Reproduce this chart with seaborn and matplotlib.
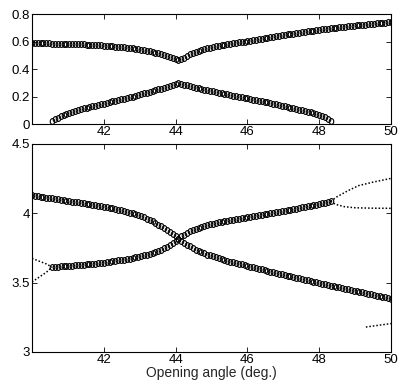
import numpy as np
import matplotlib
matplotlib.use("Agg")
import matplotlib.pyplot as plt
import seaborn as sns

# -------------------------------
# Data
# -------------------------------
# sampling grid of opening angle, 0.08 deg step
angle_full = np.round(40 + 0.08 * np.arange(126), 2)   # 40.00 .. 50.00
angle_mid = angle_full[7:105]                          # 40.56 .. 48.32

# top panel, upper branch (40.00 .. 50.00)
top_upper = [
    0.587, 0.587, 0.587, 0.586, 0.586, 0.586, 0.586, 0.585, 0.585, 0.585, 0.584, 0.584, 0.583,
    0.583, 0.582, 0.581, 0.580, 0.580, 0.579, 0.578, 0.577, 0.576, 0.575, 0.573, 0.572,
    0.570, 0.568, 0.567, 0.565, 0.563, 0.561, 0.559, 0.557, 0.555, 0.552, 0.550, 0.547, 0.545,
    0.541, 0.538, 0.534, 0.530, 0.525, 0.520, 0.515, 0.509, 0.502, 0.494, 0.487, 0.479,
    0.471, 0.465, 0.472, 0.483, 0.495, 0.506, 0.516, 0.524, 0.532, 0.539, 0.545, 0.550, 0.556,
    0.560, 0.565, 0.569, 0.573, 0.577, 0.580, 0.584, 0.587, 0.590, 0.594, 0.597, 0.599,
    0.602, 0.606, 0.609, 0.613, 0.616, 0.620, 0.623, 0.627, 0.630, 0.634, 0.637, 0.641, 0.644,
    0.648, 0.651, 0.654, 0.657, 0.661, 0.664, 0.667, 0.670, 0.673, 0.677, 0.680, 0.683,
    0.686, 0.688, 0.691, 0.693, 0.696, 0.698, 0.700, 0.703, 0.705, 0.707, 0.710, 0.712, 0.715,
    0.717, 0.719, 0.721, 0.723, 0.725, 0.727, 0.729, 0.731, 0.733, 0.735, 0.737, 0.739, 0.741,
]

# top panel, lower branch (40.56 .. 48.32)
top_lower = [
    0.022, 0.036, 0.047, 0.058, 0.067, 0.075, 0.082, 0.089, 0.096,
    0.102, 0.108, 0.113, 0.119, 0.124, 0.129, 0.134, 0.139, 0.144,
    0.149, 0.154, 0.159, 0.164, 0.169, 0.174, 0.179, 0.184, 0.189, 0.194, 0.200, 0.205, 0.210,
    0.216, 0.222, 0.228, 0.234, 0.240, 0.246, 0.252, 0.258, 0.265, 0.271, 0.278, 0.284,
    0.291, 0.297, 0.292, 0.287, 0.281, 0.275, 0.269, 0.264, 0.259, 0.254, 0.250, 0.246, 0.242,
    0.238, 0.233, 0.229, 0.224, 0.220, 0.215, 0.211, 0.207, 0.203, 0.198, 0.194, 0.190,
    0.186, 0.182, 0.178, 0.174, 0.169, 0.165, 0.161, 0.157, 0.152, 0.148, 0.143, 0.139, 0.134,
    0.130, 0.125, 0.120, 0.115, 0.110, 0.105, 0.100, 0.095, 0.090, 0.084, 0.078, 0.072,
    0.066, 0.059, 0.051, 0.040, 0.022,
]

# bottom panel, falling branch (40.00 .. 50.00)
bot_fall = [
    4.130, 4.127, 4.124, 4.120, 4.117, 4.114, 4.111, 4.108, 4.104, 4.101, 4.098, 4.095, 4.092,
    4.088, 4.085, 4.082, 4.079, 4.076, 4.072, 4.069, 4.066, 4.063, 4.059, 4.055, 4.052,
    4.048, 4.044, 4.040, 4.036, 4.031, 4.027, 4.022, 4.017, 4.011, 4.005, 3.999, 3.992, 3.985,
    3.978, 3.970, 3.961, 3.952, 3.942, 3.931, 3.919, 3.906, 3.892, 3.878, 3.863, 3.848,
    3.833, 3.818, 3.803, 3.788, 3.774, 3.761, 3.749, 3.738, 3.728, 3.719, 3.711, 3.703, 3.696,
    3.689, 3.682, 3.676, 3.670, 3.664, 3.658, 3.652, 3.646, 3.641, 3.636, 3.631, 3.626,
    3.621, 3.616, 3.611, 3.605, 3.600, 3.595, 3.590, 3.585, 3.580, 3.575, 3.570, 3.565, 3.560,
    3.555, 3.550, 3.545, 3.540, 3.535, 3.530, 3.525, 3.521, 3.516, 3.511, 3.506, 3.502,
    3.497, 3.493, 3.488, 3.484, 3.479, 3.475, 3.470, 3.466, 3.461, 3.457, 3.452, 3.448, 3.443,
    3.439, 3.434, 3.430, 3.425, 3.421, 3.416, 3.412, 3.407, 3.403, 3.398, 3.394, 3.389, 3.385,
]

# bottom panel, rising branch (40.56 .. 48.32)
bot_rise = [
    3.612, 3.614, 3.615, 3.617, 3.618, 3.620, 3.622, 3.623, 3.625,
    3.627, 3.628, 3.630, 3.632, 3.634, 3.636, 3.638, 3.640, 3.642,
    3.645, 3.648, 3.651, 3.654, 3.657, 3.660, 3.663, 3.666, 3.670, 3.674, 3.678, 3.682, 3.686,
    3.691, 3.696, 3.701, 3.707, 3.713, 3.720, 3.728, 3.737, 3.747, 3.759, 3.772, 3.787,
    3.803, 3.818, 3.833, 3.847, 3.859, 3.870, 3.880, 3.889, 3.897, 3.904, 3.910, 3.916, 3.921,
    3.926, 3.931, 3.935, 3.939, 3.943, 3.947, 3.951, 3.955, 3.959, 3.962, 3.966, 3.969,
    3.973, 3.976, 3.980, 3.983, 3.987, 3.990, 3.994, 3.997, 4.000, 4.004, 4.007, 4.011, 4.014,
    4.018, 4.022, 4.026, 4.030, 4.034, 4.038, 4.042, 4.046, 4.050, 4.054, 4.058, 4.062,
    4.066, 4.071, 4.076, 4.081, 4.087,
]

# dotted (unstable) branches in the bottom panel
dot_left_up_x = [40.0, 40.2, 40.4, 40.56]
dot_left_up_y = [3.675, 3.655, 3.635, 3.612]
dot_left_lo_x = [40.0, 40.2, 40.4, 40.56]
dot_left_lo_y = [3.505, 3.540, 3.575, 3.612]
dot_right_up_x = [48.32, 48.5, 48.8, 49.1, 49.5, 50.0]
dot_right_up_y = [4.087, 4.120, 4.163, 4.200, 4.225, 4.252]
dot_right_lo_x = [48.32, 48.45, 48.7, 49.0, 49.5, 50.0]
dot_right_lo_y = [4.087, 4.065, 4.048, 4.040, 4.037, 4.036]
dot_tail_x = [49.3, 50.0]
dot_tail_y = [3.180, 3.205]

x_ticks = [42, 44, 46, 48, 50]
top_yticks = [0, 0.2, 0.4, 0.6, 0.8]
top_ylabels = ["0", "0.2", "0.4", "0.6", "0.8"]
bot_yticks = [3, 3.5, 4, 4.5]
bot_ylabels = ["3", "3.5", "4", "4.5"]

# -------------------------------
# Style
# -------------------------------
sns.set_style("ticks")
plt.rcParams["font.family"] = ["Liberation Sans", "DejaVu Sans"]
plt.rcParams["font.size"] = 9

# slightly tall open circle, like the low-res original
t = np.linspace(0, 2 * np.pi, 25)
oval = np.column_stack([0.78 * np.cos(t), np.sin(t)])

circ = dict(marker=oval, ls="none", mfc="none", mec="black", ms=4.2, mew=0.8,
            estimator=None, sort=False)
dots = dict(color="black", ls=(0, (1, 1.3)), lw=1.1, estimator=None, sort=False)


def style_axes(ax, yticks, ylabels, ylim):
    ax.set_xlim(40, 50)
    ax.set_ylim(*ylim)
    ax.set_xticks(x_ticks)
    ax.set_xticklabels([str(v) for v in x_ticks])
    ax.set_yticks(yticks)
    ax.set_yticklabels(ylabels)
    ax.tick_params(direction="in", length=3.5, width=0.6, top=True, right=True,
                   labelsize=9.5, pad=1.5, colors="black")
    for s in ax.spines.values():
        s.set_visible(True)
        s.set_linewidth(0.8)
        s.set_color("black")
    ax.set_ylabel("")


fig = plt.figure(figsize=(4.04, 3.88), dpi=100)
ax1 = fig.add_axes([0.0792, 0.6804, 0.8886, 0.2835])
ax2 = fig.add_axes([0.0792, 0.0928, 0.8886, 0.5361])

# top panel
sns.lineplot(x=angle_full, y=top_upper, ax=ax1, **circ)
sns.lineplot(x=angle_mid, y=top_lower, ax=ax1, **circ)
style_axes(ax1, top_yticks, top_ylabels, (0, 0.8))
ax1.set_xlabel("")

# bottom panel
for xs, ys in [(dot_left_up_x, dot_left_up_y), (dot_left_lo_x, dot_left_lo_y),
               (dot_right_up_x, dot_right_up_y), (dot_right_lo_x, dot_right_lo_y),
               (dot_tail_x, dot_tail_y)]:
    sns.lineplot(x=xs, y=ys, ax=ax2, **dots)
sns.lineplot(x=angle_full, y=bot_fall, ax=ax2, **circ)
sns.lineplot(x=angle_mid, y=bot_rise, ax=ax2, **circ)
style_axes(ax2, bot_yticks, bot_ylabels, (3, 4.5))
ax2.set_xlabel("Opening angle (deg.)", fontsize=10, labelpad=0)

fig.savefig("out.png", dpi=100)
